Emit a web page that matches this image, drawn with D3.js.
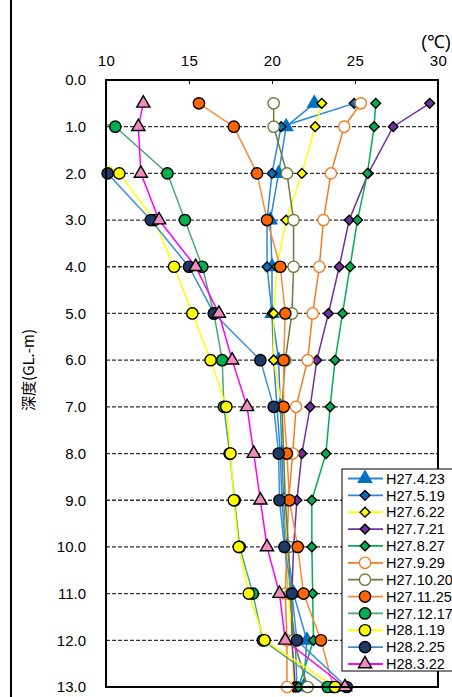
<!DOCTYPE html>
<html>
<head>
<meta charset="utf-8">
<script src="https://cdn.jsdelivr.net/npm/d3@7"></script>
<style>
body { margin: 0; background: #fff; }
svg { display: block; font-family: "Liberation Sans", Arial, sans-serif; }
</style>
</head>
<body>
<svg id="chart"></svg>
<script>
// depths (GL.-m)
var depths = [0.5, 1, 2, 3, 4, 5, 6, 7, 8, 9, 10, 11, 12, 13];

// temperatures per survey date (null = no reading)
var h27_4_23  = [22.55, 20.85, 20.4, 19.9, 20.0, 20.0, 20.4, 20.5, 20.6, 20.7, 20.9, 21.3, 22.1, 21.9];
var h27_5_19  = [24.95, 20.55, 20.0, 19.7, 19.7, 20.0, 20.1, 20.3, 20.5, 20.6, 20.8, 21.0, 21.4, 21.5];
var h27_6_22  = [23.0, 22.6, 21.8, 20.85, 20.3, 20.1, 20.1, 20.6, 20.7, 20.8, 20.9, 21.0, 21.2, 21.3];
var h27_7_21  = [29.5, 27.3, 25.8, 24.65, 24.05, 23.4, 22.7, 22.3, 21.8, 21.5, 21.3, 21.2, 21.2, 21.4];
var h27_8_27  = [26.25, 26.15, 25.75, 25.15, 24.7, 24.25, 23.8, 23.5, 23.25, 22.4, 22.4, 22.45, 22.5, 21.6];
var h27_9_29  = [25.35, 24.35, 23.55, 23.1, 22.85, 22.45, 22.15, 21.45, 21.25, 21.0, 20.9, 20.8, 20.9, 20.9];
var h27_10_20 = [20.1, 20.1, 20.9, 21.3, 21.3, 21.2, 20.8, 20.6, 20.7, 20.8, 21.0, 21.1, 21.3, 22.15];
var h27_11_25 = [15.6, 17.7, 19.1, 19.7, 20.5, 20.8, 20.7, 20.7, 20.9, 21.05, 21.55, 21.9, 22.95, 23.7];
var h27_12_17 = [4.5, 10.56, 13.7, 14.75, 15.8, 16.5, 17.0, 17.1, 17.45, 17.75, 18.05, 18.85, 19.45, 23.35];
var h28_1_19  = [null, 6.6, 10.8, 12.9, 14.1, 15.2, 16.3, 17.25, 17.5, 17.7, 18.0, 18.6, 19.55, 23.8];
var h28_2_25  = [null, null, 10.1, 12.7, 15.0, 16.5, 19.3, 20.1, 20.4, 20.45, 20.75, 21.2, 21.5, 24.5];
var h28_3_22  = [12.25, 11.95, 12.1, 13.2, 15.4, 16.8, 17.6, 18.5, 18.9, 19.3, 19.7, 20.45, 20.8, 24.4];

var seriesNames = ["H27.4.23", "H27.5.19", "H27.6.22", "H27.7.21", "H27.8.27", "H27.9.29",
                   "H27.10.20", "H27.11.25", "H27.12.17", "H28.1.19", "H28.2.25", "H28.3.22"];
var seriesValues = [h27_4_23, h27_5_19, h27_6_22, h27_7_21, h27_8_27, h27_9_29,
                    h27_10_20, h27_11_25, h27_12_17, h28_1_19, h28_2_25, h28_3_22];

var xTicks = [10, 15, 20, 25, 30];
var yTicks = [0, 1, 2, 3, 4, 5, 6, 7, 8, 9, 10, 11, 12, 13];

// style per series: line colour, marker shape, marker fill, marker stroke
var styles = [
  {line: "#2f86d6", shape: "triangle", fill: "#0070C0", stroke: "#0070C0"},
  {line: "#2f86d6", shape: "diamond",  fill: "#0070C0", stroke: "#000"},
  {line: "#ffff00", shape: "diamond",  fill: "#ffff00", stroke: "#000"},
  {line: "#7030A0", shape: "diamond",  fill: "#7030A0", stroke: "#000"},
  {line: "#00B050", shape: "diamond",  fill: "#00B050", stroke: "#000"},
  {line: "#F07E26", shape: "circle",   fill: "#fff",    stroke: "#F07E26"},
  {line: "#6E7B3C", shape: "circle",   fill: "#fff",    stroke: "#6E7B3C"},
  {line: "#F58A3A", shape: "circle",   fill: "#FF6600", stroke: "#000"},
  {line: "#4CA878", shape: "circle",   fill: "#00B050", stroke: "#000"},
  {line: "#ffff00", shape: "circle",   fill: "#ffff00", stroke: "#000"},
  {line: "#3d8fd6", shape: "circle",   fill: "#1F3864", stroke: "#000"},
  {line: "#ff00ff", shape: "triangle", fill: "#F08CC0", stroke: "#000"}
];

var width = 452;
var height = 697;
var pLeft = 106, pRight = 438, pTop = 80, pBottom = 687;

var svg = d3.select('#chart')
    .attr('width', width)
    .attr('height', height);

var xScale = d3.scaleLinear().domain([10, 30]).range([pLeft, pRight]);
var yScale = d3.scaleLinear().domain([0, 13]).range([pTop, pBottom]);

// outer frame line on the left
svg.append('line')
    .attr('x1', 11).attr('x2', 11)
    .attr('y1', 0).attr('y2', height)
    .attr('stroke', '#000')
    .attr('stroke-width', 2);

svg.append('clipPath').attr('id', 'plotClip')
  .append('rect')
    .attr('x', pLeft).attr('y', pTop)
    .attr('width', pRight - pLeft).attr('height', pBottom - pTop);

// dashed grid lines
svg.append('g')
  .selectAll('line')
  .data(yTicks.filter(d => d > 0 && d < 13))
  .enter()
  .append('line')
    .attr('x1', pLeft).attr('x2', pRight)
    .attr('y1', d => yScale(d)).attr('y2', d => yScale(d))
    .attr('stroke', '#333')
    .attr('stroke-width', 1.3)
    .attr('stroke-dasharray', '4,2');

// x axis on top
var xAxis = d3.axisTop(xScale)
    .tickValues(xTicks)
    .tickSize(-4)
    .tickPadding(14)
    .tickFormat(d3.format('d'));

var gx = svg.append('g')
    .attr('transform', 'translate(0,' + pTop + ')')
    .call(xAxis);
gx.select('.domain').remove();
gx.selectAll('line').attr('stroke', '#000');
gx.selectAll('text')
    .style('font-size', '15px')
    .style('letter-spacing', '0.5px')
    .attr('fill', '#000');

// y axis
var yAxis = d3.axisLeft(yScale)
    .tickValues(yTicks)
    .tickSize(0)
    .tickPadding(20)
    .tickFormat(d3.format('.1f'));

var gy = svg.append('g')
    .attr('transform', 'translate(' + pLeft + ',0)')
    .call(yAxis);
gy.select('.domain').remove();
gy.selectAll('text')
    .style('font-size', '15px')
    .attr('fill', '#000');

// series
var line = d3.line()
    .defined(d => d.t !== null)
    .x(d => xScale(d.t))
    .y(d => yScale(d.depth));

function symbolFor(shape) {
  if (shape === 'triangle') return d3.symbol().type(d3.symbolTriangle).size(75);
  if (shape === 'diamond') return d3.symbol().type(d3.symbolSquare).size(48);
  return d3.symbol().type(d3.symbolCircle).size(100);
}
function rot(shape) {
  return shape === 'diamond' ? ' rotate(45)' : '';
}

var plot = svg.append('g').attr('clip-path', 'url(#plotClip)');

seriesValues.forEach(function(vals, i) {
  var pts = vals.map((v, j) => ({depth: depths[j], t: v}));
  plot.append('path')
      .datum(pts)
      .attr('d', line)
      .attr('fill', 'none')
      .attr('stroke', styles[i].line)
      .attr('stroke-width', 1.5);
});

seriesValues.forEach(function(vals, i) {
  var st = styles[i];
  var pts = vals.map((v, j) => ({depth: depths[j], t: v}))
      .filter(d => d.t !== null && d.t >= 10 && d.t <= 30);
  svg.append('g')
    .selectAll('path')
    .data(pts)
    .enter()
    .append('path')
      .attr('d', symbolFor(st.shape))
      .attr('transform', d => 'translate(' + xScale(d.t) + ',' + yScale(d.depth) + ')' + rot(st.shape))
      .attr('fill', st.fill)
      .attr('stroke', st.stroke)
      .attr('stroke-width', 1.4);
});

// plot border
svg.append('rect')
    .attr('x', pLeft).attr('y', pTop)
    .attr('width', pRight - pLeft).attr('height', pBottom - pTop)
    .attr('fill', 'none')
    .attr('stroke', '#000')
    .attr('stroke-width', 2);

// unit label
svg.append('text')
    .attr('x', 451)
    .attr('y', 48)
    .style('text-anchor', 'end')
    .style('font-size', '18px')
    .text('(℃)');

// y title
svg.append('text')
    .attr('transform', 'translate(34,370) rotate(-90)')
    .style('text-anchor', 'middle')
    .style('font-size', '15px')
    .style('font-family', '"Noto Sans CJK JP", sans-serif')
    .text('深度(GL.-m)');

// legend
var legend = svg.append('g');
legend.append('rect')
    .attr('x', 342).attr('y', 469)
    .attr('width', 130).attr('height', 202)
    .attr('fill', '#fff')
    .attr('stroke', '#000')
    .attr('stroke-width', 1);

var rowY = d3.scaleLinear().domain([0, 11]).range([478.5, 664]);

seriesNames.forEach(function(name, i) {
  var st = styles[i];
  var y = rowY(i);
  legend.append('line')
      .attr('x1', 348).attr('x2', 383)
      .attr('y1', y).attr('y2', y)
      .attr('stroke', st.line)
      .attr('stroke-width', 1.8);
  legend.append('path')
      .attr('d', symbolFor(st.shape)())
      .attr('transform', 'translate(365,' + y + ')' + rot(st.shape))
      .attr('fill', st.fill)
      .attr('stroke', st.stroke)
      .attr('stroke-width', 1.4);
  legend.append('text')
      .attr('x', 386)
      .attr('y', y)
      .attr('dy', '0.36em')
      .style('font-size', '14.5px')
      .text(name);
});
</script>
</body>
</html>
